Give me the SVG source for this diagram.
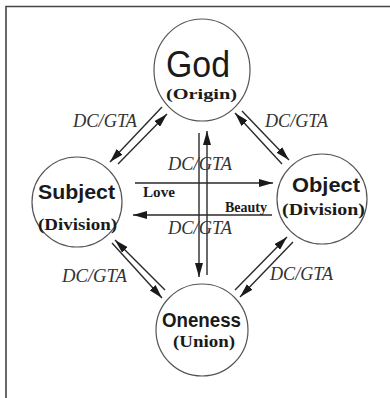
<svg xmlns="http://www.w3.org/2000/svg" width="390" height="398" viewBox="0 0 390 398">
<style>
.frame{fill:none;stroke:#444;stroke-width:1.6}
.node{fill:#fff;stroke:#555;stroke-width:1.2}
.conn line{stroke:#2a2a2a;stroke-width:1.4;marker-end:url(#ah)}
.big{font-family:"Liberation Sans",Arial,sans-serif;fill:#1a1a1a}
.sub{font-family:"Liberation Serif","Times New Roman",serif;font-weight:bold;fill:#1a1a1a}
.lbl{font-family:"Liberation Serif","Times New Roman",serif;font-style:italic;font-size:18px;fill:#333}
.rel{font-family:"Liberation Serif","Times New Roman",serif;font-weight:bold;font-size:14px;fill:#1a1a1a}
</style>
<defs>
<marker id="ah" markerWidth="14" markerHeight="8" refX="14" refY="4" orient="auto" markerUnits="userSpaceOnUse">
<path d="M0,0 L14,4 L0,8 z" fill="#1a1a1a"/>
</marker>
</defs>
<rect width="390" height="398" fill="#fff"/>
<path class="frame" d="M6,398 V6.5 H390"/>

<g id="connectors" class="conn">
<line x1="162" y1="107" x2="110" y2="162"/>
<line x1="118" y1="164" x2="167" y2="114"/>
<line x1="282" y1="164" x2="235" y2="113"/>
<line x1="242" y1="111" x2="289" y2="160"/>
<line x1="165" y1="290" x2="115" y2="240"/>
<line x1="112" y1="243" x2="162" y2="298"/>
<line x1="235" y1="290" x2="287" y2="237"/>
<line x1="293" y1="242" x2="240" y2="297"/>
<line x1="199" y1="133" x2="199" y2="277"/>
<line x1="207" y1="275" x2="207" y2="131"/>
<line x1="135" y1="183" x2="273" y2="183"/>
<line x1="272" y1="215" x2="133" y2="215"/>
</g>

<g id="labels">
<text class="lbl" x="73" y="127" textLength="64" lengthAdjust="spacingAndGlyphs">DC/GTA</text>
<text class="lbl" x="265" y="127" textLength="63" lengthAdjust="spacingAndGlyphs">DC/GTA</text>
<text class="lbl" x="168" y="170" textLength="64" lengthAdjust="spacingAndGlyphs">DC/GTA</text>
<text class="lbl" x="168" y="234" textLength="64" lengthAdjust="spacingAndGlyphs">DC/GTA</text>
<text class="lbl" x="62" y="282" textLength="65" lengthAdjust="spacingAndGlyphs">DC/GTA</text>
<text class="lbl" x="270" y="280" textLength="63" lengthAdjust="spacingAndGlyphs">DC/GTA</text>
<text class="rel" x="143" y="197" textLength="32" lengthAdjust="spacingAndGlyphs">Love</text>
<text class="rel" x="225" y="212" textLength="42" lengthAdjust="spacingAndGlyphs">Beauty</text>
</g>

<g id="god">
<ellipse class="node" cx="202" cy="70" rx="48" ry="51"/>
<text class="big" x="166" y="77" font-size="36" textLength="64" lengthAdjust="spacingAndGlyphs">God</text>
<text class="sub" x="166" y="98.5" font-size="15" textLength="71" lengthAdjust="spacingAndGlyphs">(Origin)</text>
</g>

<g id="subject">
<circle class="node" cx="77" cy="202" r="45"/>
<text class="big" x="38" y="199" font-size="21" font-weight="bold" textLength="77" lengthAdjust="spacingAndGlyphs">Subject</text>
<text class="sub" x="38" y="230" font-size="16" textLength="79" lengthAdjust="spacingAndGlyphs">(Division)</text>
</g>

<g id="object">
<circle class="node" cx="322" cy="199" r="45"/>
<text class="big" x="292" y="192" font-size="21" font-weight="bold" textLength="68" lengthAdjust="spacingAndGlyphs">Object</text>
<text class="sub" x="282" y="215" font-size="16" textLength="83" lengthAdjust="spacingAndGlyphs">(Division)</text>
</g>

<g id="oneness">
<circle class="node" cx="202" cy="330" r="46"/>
<text class="big" x="162" y="327" font-size="20" font-weight="bold" textLength="79" lengthAdjust="spacingAndGlyphs">Oneness</text>
<text class="sub" x="173" y="347" font-size="16" textLength="62" lengthAdjust="spacingAndGlyphs">(Union)</text>
</g>
</svg>
